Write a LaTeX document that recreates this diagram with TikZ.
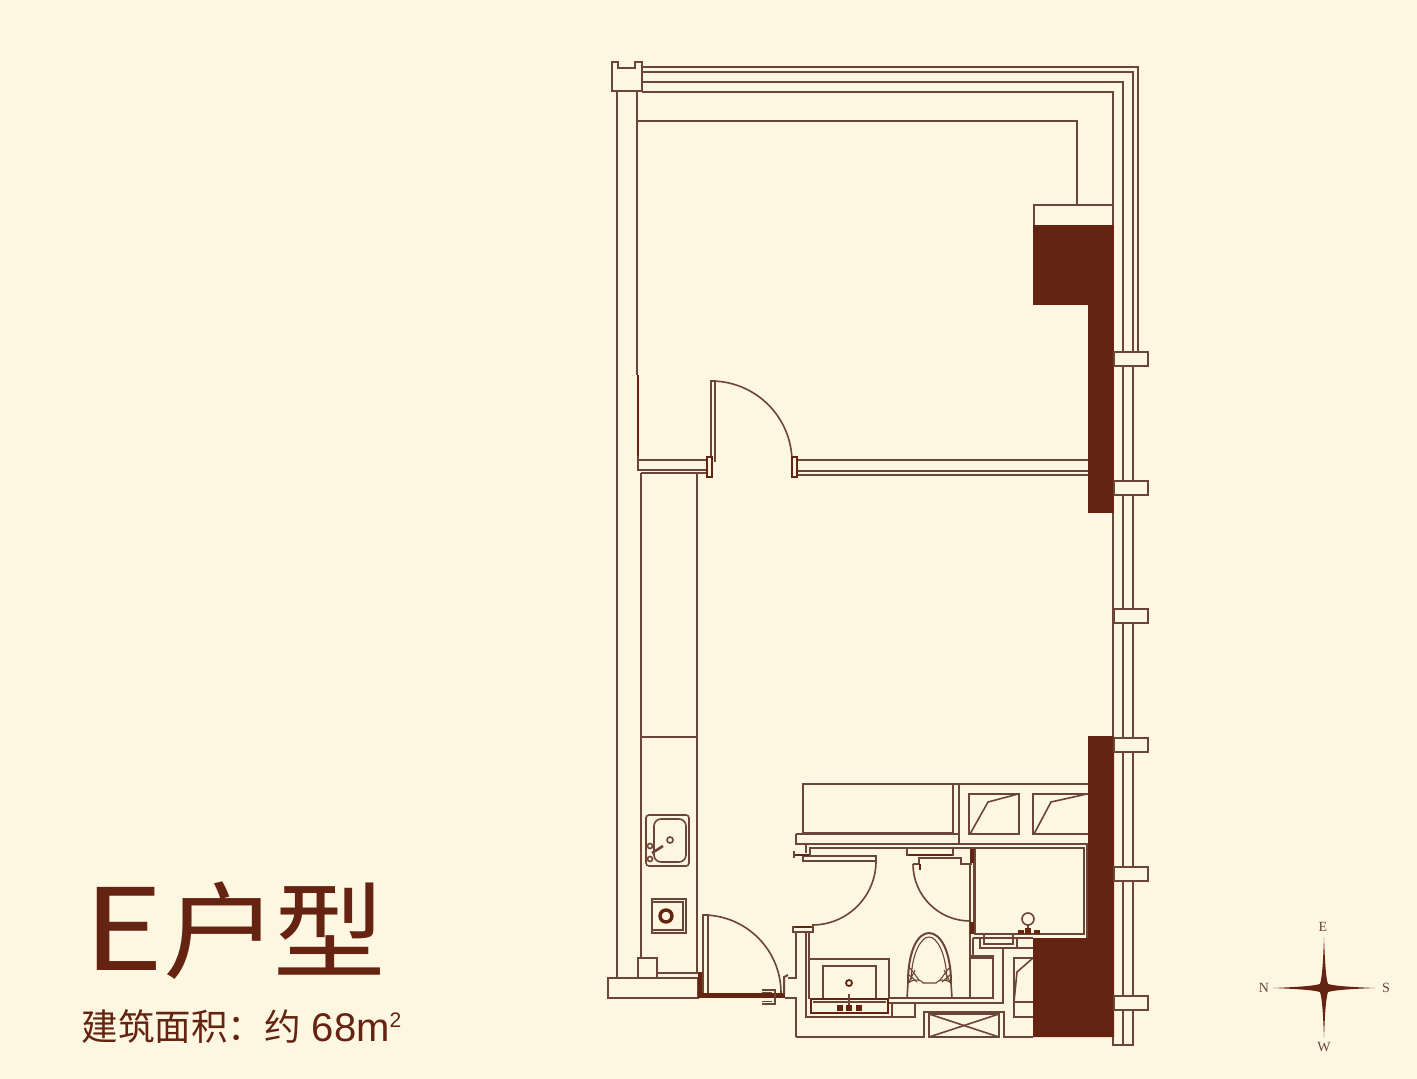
\documentclass[tikz,border=0pt]{standalone}
\usepackage{fontspec}
\newfontfamily\cjk{Noto Sans CJK SC}
\setmainfont{Liberation Serif}
\setsansfont{Liberation Sans}
\definecolor{creme}{HTML}{FDF6E1}
\definecolor{linie}{HTML}{6B4536}
\definecolor{dunkel}{HTML}{652412}
\def\laibung#1{
\fill[color=creme] (1114,#1) rectangle ++(34,14);
\draw[line width=2pt] (1114,#1) rectangle ++(34,14);
}
\def\zarge#1#2{
\draw[color=dunkel,line width=1.4pt,fill=creme] (#1,#2) rectangle ++(5,20);
}
\tikzset{
	titel/.style={font=\cjk,color=dunkel,inner sep=0pt,anchor=base west},
	himmel/.style={font=\fontsize{14}{14}\selectfont,color=linie,inner sep=0pt},
	dick/.style={color=dunkel,line width=2.4pt},
	duenn/.style={line width=1.1pt}
}

\begin{document}
\begin{tikzpicture}[x=1pt,y=-1pt,color=linie,line width=1.6pt]
\fill[color=creme] (0,0) rectangle (1417,1079);
\useasboundingbox (0,0) rectangle (1417,1079);
% outer walls
\draw[line width=2pt] (612,62) -- (618,62) -- (618,68) -- (635,68) -- (635,62)
	-- (642,62) -- (642,91) -- (612,91) -- cycle;
\draw (642,67) -- (1138,67) -- (1138,352);
\draw (642,72) -- (1133,72) -- (1133,1045) -- (1113,1045) -- (1113,92) -- (642,92);
\draw (642,82) -- (1123,82) -- (1123,1045);
\draw (617,91) -- (617,978);
\draw (637,91) -- (637,375);
\draw (637,121) -- (1077,121) -- (1077,205);
\draw[dick] (638,375) -- (638,456);
\draw (638,456) -- (638,470) -- (707,470);
\draw (638,460) -- (707,460);
\draw (641,473) -- (707,473);
% dark wall parts
\draw (1034,225) -- (1034,205) -- (1113,205);
\fill[color=dunkel] (1033,225) rectangle (1114,305);
\fill[color=dunkel] (1088,305) rectangle (1114,513);
\fill[color=dunkel] (1088,736) -- (1114,736) -- (1114,1037) -- (1033,1037)
	-- (1033,938) -- (1088,938) -- cycle;
\laibung{352}
\laibung{481}
\laibung{609}
\laibung{738}
\laibung{867}
\laibung{996}
% inner door and wall
\draw (797,460) -- (1088,460);
\draw (797,471) -- (1088,471);
\draw (797,475) -- (1088,475);
\draw (711,462) -- (711,381) -- (715,381) -- (715,462);
\draw (711,381) arc (-90:0:81);
\zarge{707}{457}
\zarge{792}{457}
% kitchen
\draw (641,473) -- (641,958);
\draw (697,473) -- (697,973);
\draw (641,737) -- (697,737);
\draw[rounded corners=3pt] (646,815) rectangle (689,866);
\draw[rounded corners=7pt] (654,819) rectangle (686,862);
\draw[fill=creme] (670,840) circle (3);
\draw[fill=creme] (650,846) circle (2.5);
\draw[fill=creme] (650,859) circle (2.5);
\draw[line width=2.6pt] (652,853) -- (663,846);
\draw (652,899) rectangle (686,933);
\draw (652,930) -- (683,930) -- (683,902) -- (652,902);
\draw[color=dunkel,line width=3.4pt] (666,916) circle (6);
\draw (638,978) -- (638,958) -- (657,958) -- (657,978);
\draw (657,973) -- (698,973);
\draw (608,978) rectangle (698,998);
% entrance door
\draw (703,993) -- (703,915) -- (708,915) -- (708,993);
\draw (703,915) arc (-90:0:78);
\fill[color=dunkel] (698,972) rectangle (702,998);
\fill[color=dunkel] (701,993) rectangle (785,998);
\draw[line width=1.4pt] (762,990) -- (775,990) -- (775,1004) -- (762,1004);
\draw[duenn] (762,992.5) -- (772,992.5);
\draw[duenn] (762,1001.5) -- (772,1001.5);
\draw[line width=2pt] (784,994) -- (784,977) -- (788,975);
\draw (788,978) -- (796,978) -- (796,932);
\draw (785,998) -- (796,998) -- (796,1037);
% bath walls
\draw (796,1037) -- (924,1037) -- (924,1012) -- (1004,1012) -- (1004,1037) -- (1033,1037);
\draw (806,932) -- (806,1017) -- (915,1017) -- (915,1003) -- (892,1003) -- (892,1017);
\draw (809,932) -- (809,999);
\draw (889,1003) -- (1003,1003) -- (1003,948);
\draw (889,998) -- (993,998) -- (993,956) -- (970,956);
\draw (970,958) -- (992,958);
\draw (929,1014) rectangle (999,1037);
\draw (929,1014) -- (999,1037);
\draw (929,1037) -- (999,1014);
% cabinet and window bands
\draw (803,833) -- (803,784) -- (1088,784);
\draw (803,833) -- (953,833) -- (953,784);
\draw (959,784) -- (959,844);
\draw (796,834) -- (959,834);
\draw (806,853) -- (806,844) -- (796,844) -- (796,834);
\draw (806,844) -- (1088,844);
\draw (810,856) -- (810,848) -- (1084,848);
\draw (969,834) rectangle (1019,794);
\draw (970,834) -- (988,802) -- (1018,794);
\draw (1088,794) -- (1033,794) -- (1033,834) -- (1088,834);
\draw (1034,834) -- (1051,802) -- (1087,794);
% right room box
\draw (975,848) rectangle (1084,934);
\draw (1087,844) -- (1087,938);
\draw (973,938) -- (1033,938);
\draw (973,938) -- (973,955);
\draw (980,938) -- (980,948) -- (1033,948);
\draw (984,934) -- (984,944) -- (1013,944) -- (1013,934);
\draw (1017,938) -- (1017,948);
\draw (1033,958) -- (1014,958) -- (1014,1017) -- (1033,1017);
\draw (1014,1002) -- (1033,1002);
\draw (1033,958) -- (1017,972) -- (1014,1002);
\draw (1028,919) circle (6);
\draw (1028,925) -- (1028,934);
\fill[color=dunkel] (1018,930) rectangle ++(6,4);
\fill[color=dunkel] (1025,928) rectangle ++(6,6);
\fill[color=dunkel] (1034,930) rectangle ++(6,4);
% bath doors
\draw (803,856) -- (876,856) -- (876,861) -- (803,861) -- cycle;
\draw[dick] (794,855) -- (809,855);
\draw[duenn] (794,851) -- (794,858);
\draw (876,861) arc (0:90:64);
\draw[duenn,fill=creme] (793,927) rectangle (813,932);
\draw[dick,line width=1.4pt] (795,927) -- (811,927);
\draw (913,864) arc (180:90:57);
\draw (970,864) -- (970,998);
\draw (974,848) -- (974,934);
\fill[color=dunkel] (970,849) rectangle (974,863);
\fill[color=dunkel] (970,922) rectangle (974,934);
\draw[duenn] (907,849) -- (907,855) -- (953,855) -- (953,849);
\draw[color=dunkel] (909,855) -- (952,855);
\draw (919,863) -- (919,858) -- (961,858) -- (961,864) -- (972,864);
\draw (913,864) -- (920,864);
\draw[color=dunkel] (920,864) -- (920,870);
% vanity and toilet
\draw (809,959) -- (889,959) -- (889,998);
\draw (823,998) -- (823,966) -- (876,966) -- (876,998);
\draw[color=dunkel,line width=2.6pt] (811,999) rectangle (888,1013);
\draw[duenn] (813,1002) -- (886,1002);
\draw[color=dunkel,line width=1.8pt] (849,983) circle (3);
\draw[duenn] (849,994) -- (849,1008);
\fill[color=dunkel] (837,1005) rectangle ++(6,6);
\fill[color=dunkel] (846,1005) rectangle ++(6,6);
\fill[color=dunkel] (856,1005) rectangle ++(6,6);
\draw[line width=2pt] (908,983) .. controls (908,950) and (918,933) .. (929,933)
	.. controls (940,933) and (951,950) .. (951,983);
\draw[duenn] (911,980) .. controls (912,953) and (921,937) .. (929,937)
	.. controls (937,937) and (946,953) .. (947,980);
\draw[duenn] (908,983) .. controls (915,978) and (922,980) .. (923,983)
	-- (936,983) .. controls (938,980) and (945,978) .. (951,983);
\draw[duenn] (909,975) -- (917,982);
\draw[duenn] (910,968) -- (919,980);
\draw[duenn] (915,970) -- (909,982);
\draw[duenn] (950,975) -- (942,982);
\draw[duenn] (949,968) -- (940,980);
\draw[duenn] (944,970) -- (950,982);
\draw (908,983) -- (907,998);
\draw (951,983) -- (952,998);
% compass
\fill[color=dunkel] (1324,937) .. controls (1325,965) and (1326,978) .. (1328,984)
	.. controls (1335,986) and (1350,987) .. (1375,988)
	.. controls (1350,989) and (1335,990) .. (1328,992)
	.. controls (1326,998) and (1325,1011) .. (1324,1038)
	.. controls (1323,1011) and (1322,998) .. (1320,992)
	.. controls (1313,990) and (1298,989) .. (1273,988)
	.. controls (1298,987) and (1313,986) .. (1320,984)
	.. controls (1322,978) and (1323,965) .. (1324,937) -- cycle;
\node[himmel] (ost) at (1323,927) {E};
\node[himmel] (sued) at (1386,988) {S};
\node[himmel] (west) at (1324,1047) {W};
\node[himmel] (nord) at (1264,988) {N};
% title
\node[titel] (buchstabe) at (83,970) {\fontsize{105}{105}\selectfont\makebox[78pt][l]{\scalebox{1.3}[1.08]{E}}};
\node[titel] (hu) at (163,970) {\fontsize{105}{105}\selectfont\scalebox{1.1}[1]{户}};
\node[titel] (xing) at (273,970) {\fontsize{105}{105}\selectfont\scalebox{1.07}[1]{型}};
\node[titel] (flaeche) at (81,1040) {\fontsize{36.5}{36.5}\selectfont 建筑面积：约};
\node[titel,font=\sffamily] (wert) at (311,1041) {\fontsize{40}{40}\selectfont 68m\raisebox{14pt}{\fontsize{21}{21}\selectfont 2}};
\end{tikzpicture}
\end{document}
